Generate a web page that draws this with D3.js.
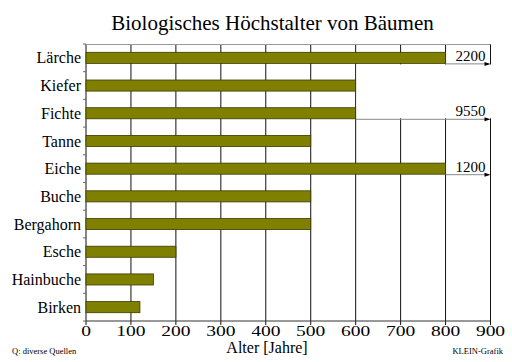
<!DOCTYPE html>
<html>
<head>
<meta charset="utf-8">
<script src="https://cdn.jsdelivr.net/npm/d3@7"></script>
<style>
  body { margin: 0; background: #fff; }
  svg text { font-family: 'Liberation Serif', 'DejaVu Serif', 'Times New Roman', Times, serif; fill: #000; }
</style>
</head>
<body>
<div id="chart"></div>
<script>
// Baumarten, von oben nach unten
var trees = ["Lärche", "Kiefer", "Fichte", "Tanne", "Eiche", "Buche", "Bergahorn", "Esche", "Hainbuche", "Birken"];
// gezeichnete Balkenlänge (Jahre)
var shownAge = [800, 600, 600, 500, 800, 500, 500, 200, 150, 120];
// Balken, die über die Achse hinausgehen: echte Werte
var overflowAge = [2200, null, 9550, null, 1200, null, null, null, null, null];
var xTicks = [0, 100, 200, 300, 400, 500, 600, 700, 800, 900];

let W = 512, H = 362;
let plotL = 86, plotR = 490.5, plotT = 44, plotB = 321;

let svg = d3.select("#chart").append("svg")
    .attr("width", W)
    .attr("height", H);

let x = d3.scaleLinear().domain([0, 900]).range([plotL, plotR]);
let y = d3.scaleBand().domain(trees).range([plotT, plotB])
    .paddingInner(0.6).paddingOuter(0.3);

let data = trees.map((t, i) => ({ name: t, value: shownAge[i], real: overflowAge[i] }));

// title
svg.append("text")
    .attr("x", 272.5).attr("y", 30)
    .attr("text-anchor", "middle")
    .style("font-size", "21px")
    .text("Biologisches Höchstalter von Bäumen");

// vertical gridlines (also the bottom ticks)
svg.append("g").selectAll("line")
    .data(xTicks)
    .enter().append("line")
    .attr("x1", d => x(d)).attr("x2", d => x(d))
    .attr("y1", plotT).attr("y2", plotB + 4)
    .attr("stroke", "#111").attr("stroke-width", 1);

// top border
svg.append("line")
    .attr("x1", plotL).attr("x2", plotR)
    .attr("y1", plotT + 0.5).attr("y2", plotT + 0.5)
    .attr("stroke", "#999");

// white gap behind the broken Fichte value
let fi = data[2], la = data[0];
svg.append("rect")
    .attr("x", x(fi.value) + 0.8)
    .attr("y", y(la.name) + y.bandwidth() + 1)
    .attr("width", x(900) - x(fi.value) + 4)
    .attr("height", y(fi.name) - y(la.name) - 1.5)
    .attr("fill", "#fff");

// bottom axis line
svg.append("line")
    .attr("x1", plotL).attr("x2", plotR)
    .attr("y1", plotB).attr("y2", plotB)
    .attr("stroke", "#333");

// y ticks at band borders
let step = y.step();
svg.append("g").selectAll("line")
    .data(d3.range(trees.length + 1))
    .enter().append("line")
    .attr("x1", plotL - 3).attr("x2", plotL)
    .attr("y1", i => plotT + i * step).attr("y2", i => plotT + i * step)
    .attr("stroke", "#666");

// bars
svg.append("g").selectAll("rect")
    .data(data)
    .enter().append("rect")
    .attr("x", x(0))
    .attr("y", d => y(d.name))
    .attr("width", d => x(d.value) - x(0))
    .attr("height", y.bandwidth())
    .attr("fill", "#808000")
    .attr("stroke", "#3a3a00")
    .attr("stroke-width", 0.8);

// overflow arrows + real values
let over = data.filter(d => d.real != null);
let ov = svg.append("g");
ov.selectAll("line")
    .data(over)
    .enter().append("line")
    .attr("x1", d => x(d.value))
    .attr("x2", x(900) - 2)
    .attr("y1", d => y(d.name) + y.bandwidth() + 0.5)
    .attr("y2", d => y(d.name) + y.bandwidth() + 0.5)
    .attr("stroke", "#888");
ov.selectAll("path")
    .data(over)
    .enter().append("path")
    .attr("d", d => {
        let yy = y(d.name) + y.bandwidth() + 0.5, xx = x(900);
        return "M" + xx + "," + yy + "L" + (xx - 6) + "," + (yy - 2) + "L" + (xx - 6) + "," + (yy + 2) + "Z";
    })
    .attr("fill", "#000");
ov.selectAll("text")
    .data(over)
    .enter().append("text")
    .attr("x", x(900) - 5)
    .attr("y", d => y(d.name) + y.bandwidth() - 2.5)
    .attr("text-anchor", "end")
    .style("font-size", "15px")
    .text(d => d.real);

// category labels
svg.append("g").selectAll("text")
    .data(trees)
    .enter().append("text")
    .attr("x", 81)
    .attr("y", d => y(d) + y.bandwidth() / 2)
    .attr("dy", "0.35em")
    .attr("text-anchor", "end")
    .style("font-size", "16px")
    .text(d => d);

// x tick labels
svg.append("g").selectAll("text")
    .data(xTicks)
    .enter().append("text")
    .attr("transform", d => "translate(" + x(d) + "," + (plotB + 14.7) + ") scale(1.3,1)")
    .attr("text-anchor", "middle")
    .style("font-size", "15px")
    .text(d => d);

// axis title
svg.append("text")
    .attr("x", 267).attr("y", 353)
    .attr("text-anchor", "middle")
    .style("font-size", "16px")
    .text("Alter [Jahre]");

// footnotes
svg.append("text")
    .attr("x", 12).attr("y", 354)
    .style("font-size", "8.5px")
    .text("Q: diverse Quellen");
svg.append("text")
    .attr("x", 503).attr("y", 354)
    .attr("text-anchor", "end")
    .style("font-size", "8.5px")
    .text("KLEIN-Grafik");
</script>
</body>
</html>
